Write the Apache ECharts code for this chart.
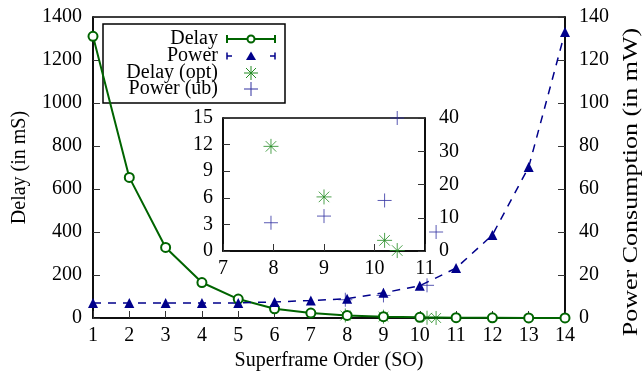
<!DOCTYPE html>
<html>
<head>
<meta charset="utf-8">
<title>Delay / Power vs SO</title>
<script src="https://cdn.jsdelivr.net/npm/echarts@6/dist/echarts.min.js"></script>
<style>
  html, body { margin: 0; padding: 0; background: #fff; }
  #chart { width: 642px; height: 373px; }
</style>
</head>
<body>
<div id="chart"></div>
<script>
// data
var soValues = [1, 2, 3, 4, 5, 6, 7, 8, 9, 10, 11, 12, 13, 14];
var delayValues = [1310, 654, 328, 165, 88, 43, 23, 12, 6, 3, 1.5, 0.8, 0.4, 0.2];
var powerValues = [7.0, 7.0, 7.0, 7.0, 7.0, 7.5, 8.1, 9.0, 11.7, 15.0, 23.2, 38.6, 70.2, 133];
var optSO = [7.95, 9, 10.2, 10.45];
var delayOpt = [11.8, 6.1, 1.2, 0.05];
var powerUb = [8.5, 10.5, 15.2, 40];
// axis ranges: [min, max, step]
var soRange = [1, 14, 1];
var delayRange = [0, 1400, 200];
var powerRange = [0, 140, 20];
var insetSoRange = [7, 11, 1];
var insetDelayRange = [0, 15, 3];
var insetPowerRange = [0, 40, 10];

var FONT = 'Liberation Serif';
var GREEN = '#006400';
var BLUE = '#00008b';
var ASTERISK = 'path://M5,0L5,10M0,5L10,5M1.5,1.5L8.5,8.5M1.5,8.5L8.5,1.5';
var PLUS = 'path://M5,0L5,10M0,5L10,5';

function pairs(xs, ys) {
    return xs.map(function (x, i) { return [x, ys[i]]; });
}

function label(margin) {
    return {
        color: '#000', fontFamily: FONT, fontSize: 20, margin: margin,
        formatter: function (v) { return String(v); } // no thousands separator
    };
}

// common axis look (gnuplot style: ticks inside, black border)
function valueAxis(range, extra) {
    var ax = {
        type: 'value',
        min: range[0],
        max: range[1],
        interval: range[2],
        axisLine: { show: true, onZero: false, lineStyle: { color: '#000', width: 1.5 } },
        axisTick: { show: true, inside: true, length: 7, lineStyle: { color: '#333', width: 1 } },
        axisLabel: label(8),
        splitLine: { show: false },
        nameTextStyle: { color: '#000', fontFamily: FONT, fontSize: 20 }
    };
    for (var k in extra) ax[k] = extra[k];
    return ax;
}

function seg(x1, y1, x2, y2, color, w) {
    return { type: 'line', silent: true, shape: { x1: x1, y1: y1, x2: x2, y2: y2 },
        style: { stroke: color, lineWidth: w } };
}

function legendText(t, y) {
    return { type: 'text', silent: true, x: 218, y: y,
        style: { text: t, textAlign: 'right', textVerticalAlign: 'middle', font: '20px "Liberation Serif"', fill: '#000' } };
}

// hand made legend box (gnuplot key)
var legend = [
    { type: 'rect', silent: true, shape: { x: 103, y: 24, width: 182, height: 79 },
      style: { fill: '#fff', stroke: '#000', lineWidth: 1.5 } },
    legendText('Delay', 39), legendText('Power', 56), legendText('Delay (opt)', 72.5), legendText('Power (ub)', 89),
    // Delay sample
    seg(227, 39, 275, 39, GREEN, 2), seg(227, 35, 227, 43, GREEN, 2), seg(275, 35, 275, 43, GREEN, 2),
    { type: 'circle', silent: true, shape: { cx: 251, cy: 39, r: 3.5 }, style: { fill: '#fff', stroke: GREEN, lineWidth: 2 } },
    // Power sample
    seg(227, 56, 232, 56, BLUE, 1.5), seg(227, 52.5, 227, 59.5, BLUE, 1.5),
    seg(270, 56, 275, 56, BLUE, 1.5), seg(275, 52.5, 275, 59.5, BLUE, 1.5),
    { type: 'polygon', silent: true, shape: { points: [[251, 51.5], [246, 60], [256, 60]] }, style: { fill: BLUE } },
    // Delay (opt) sample
    seg(251, 66, 251, 80, '#228b22', 1), seg(244, 73, 258, 73, '#228b22', 1),
    seg(246, 68, 256, 78, '#228b22', 1), seg(246, 78, 256, 68, '#228b22', 1),
    // Power (ub) sample
    seg(251, 82, 251, 96, '#3030a0', 1), seg(244, 89, 258, 89, '#3030a0', 1),
    // right axis title, stretched along its length like in the original figure
    { type: 'text', silent: true, x: 632, y: 182, rotation: Math.PI / 2, scaleX: 1.3,
      style: { text: 'Power Consumption (in mW)', textAlign: 'center', textVerticalAlign: 'middle',
               font: '20px "Liberation Serif"', fill: '#000' } }
];

var chart = echarts.init(document.getElementById('chart'));
var option = {
    animation: false,
    backgroundColor: '#fff',
    textStyle: { fontFamily: FONT },
    grid: [
        { left: 93, right: 77, top: 17, bottom: 55, outerBoundsMode: 'none', containLabel: false,
          show: true, borderColor: '#000', borderWidth: 1.5, backgroundColor: 'transparent' },
        { left: 223, right: 217, top: 118, bottom: 122, outerBoundsMode: 'none', containLabel: false,
          show: true, borderColor: '#000', borderWidth: 1.5, backgroundColor: 'transparent' }
    ],
    xAxis: [
        valueAxis(soRange, { gridIndex: 0, position: 'bottom', name: 'Superframe Order (SO)', nameLocation: 'middle', nameGap: 32,
            axisLabel: label(8) }),
        valueAxis(insetSoRange, { gridIndex: 1, position: 'bottom', axisLabel: label(8) })
    ],
    yAxis: [
        valueAxis(delayRange, { gridIndex: 0, position: 'left', name: 'Delay (in mS)', nameLocation: 'middle', nameGap: 63, nameRotate: 90,
            axisLabel: label(11) }),
        valueAxis(powerRange, { gridIndex: 0, position: 'right', axisLabel: label(14) }),
        valueAxis(insetDelayRange, { gridIndex: 1, position: 'left', axisLabel: label(10) }),
        valueAxis(insetPowerRange, { gridIndex: 1, position: 'right', axisLabel: label(14) })
    ],
    series: [
        {
            name: 'Delay', type: 'line', xAxisIndex: 0, yAxisIndex: 0,
            data: pairs(soValues, delayValues),
            symbol: 'emptyCircle', symbolSize: 9, clip: false,
            lineStyle: { color: GREEN, width: 2 },
            itemStyle: { color: GREEN, borderColor: GREEN, borderWidth: 2 }
        },
        {
            name: 'Power', type: 'line', xAxisIndex: 0, yAxisIndex: 1,
            data: pairs(soValues, powerValues),
            symbol: 'triangle', symbolSize: 10, clip: false,
            lineStyle: { color: BLUE, width: 1.5, type: [8, 7] },
            itemStyle: { color: BLUE }
        },
        {
            name: 'Delay (opt)', type: 'scatter', xAxisIndex: 0, yAxisIndex: 0,
            data: pairs(optSO, delayOpt),
            symbol: ASTERISK, symbolSize: 14, clip: false,
            itemStyle: { color: 'transparent', borderColor: '#228b22', borderWidth: 1 }
        },
        {
            name: 'Power (ub)', type: 'scatter', xAxisIndex: 0, yAxisIndex: 1,
            data: pairs(optSO, powerUb),
            symbol: PLUS, symbolSize: 14, clip: false,
            itemStyle: { color: 'transparent', borderColor: '#3030a0', borderWidth: 1 }
        },
        // inset
        {
            name: 'Delay (opt) inset', type: 'scatter', xAxisIndex: 1, yAxisIndex: 2,
            data: pairs(optSO, delayOpt),
            symbol: ASTERISK, symbolSize: 15, clip: false,
            itemStyle: { color: 'transparent', borderColor: '#228b22', borderWidth: 1 }
        },
        {
            name: 'Power (ub) inset', type: 'scatter', xAxisIndex: 1, yAxisIndex: 3,
            data: pairs(optSO, powerUb),
            symbol: PLUS, symbolSize: 14, clip: false,
            itemStyle: { color: 'transparent', borderColor: '#3030a0', borderWidth: 1 }
        }
    ],
    graphic: legend
};
chart.setOption(option);
</script>
</body>
</html>
